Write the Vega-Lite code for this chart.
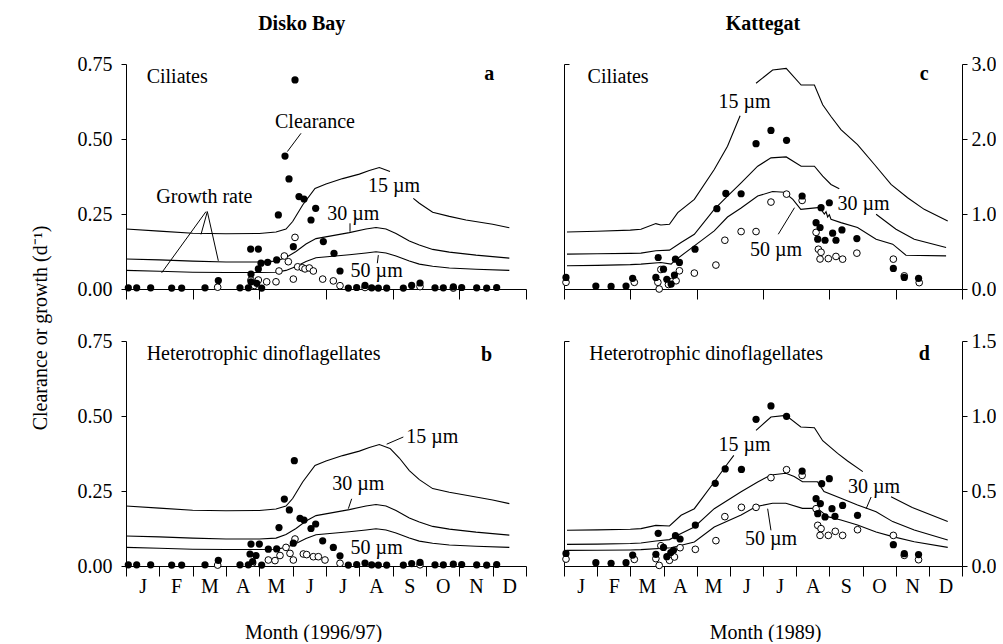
{
"$schema":"https://vega.github.io/schema/vega-lite/v6.json",
"padding":{"left":30,"top":14,"right":0,"bottom":0},
"config":{"view":{"stroke":null},"font":"Liberation Serif",
"axis":{"labelFont":"Liberation Serif","labelFontSize":20,"labelColor":"black","domainColor":"black","tickColor":"black","grid":false,"titleFont":"Liberation Serif","titleFontSize":20,"titleFontWeight":"normal","titleColor":"black","domainWidth":1,"tickWidth":1,"labelOverlap":false},
"text":{"font":"Liberation Serif","fontSize":20,"color":"black"},
"title":{"font":"Liberation Serif","fontSize":20,"color":"black"}},
"title":{"text":"Clearance or growth (d⁻¹)","orient":"left","anchor":"middle","fontWeight":"normal","offset":26},
"datasets":{
"lines":[
{"panel":"ab","seg":"15-1","month":0,"value":0.2},{"panel":"ab","seg":"15-1","month":1,"value":0.193},{"panel":"ab","seg":"15-1","month":2,"value":0.186},{"panel":"ab","seg":"15-1","month":3,"value":0.184},{"panel":"ab","seg":"15-1","month":4,"value":0.185},{"panel":"ab","seg":"15-1","month":4.5,"value":0.19},{"panel":"ab","seg":"15-1","month":4.8,"value":0.2},{"panel":"ab","seg":"15-1","month":5.0,"value":0.225},{"panel":"ab","seg":"15-1","month":5.3,"value":0.28},{"panel":"ab","seg":"15-1","month":5.67,"value":0.335},{"panel":"ab","seg":"15-1","month":6.0,"value":0.35},{"panel":"ab","seg":"15-1","month":6.5,"value":0.368},{"panel":"ab","seg":"15-1","month":7.0,"value":0.383},{"panel":"ab","seg":"15-1","month":7.3,"value":0.395},{"panel":"ab","seg":"15-1","month":7.6,"value":0.405},{"panel":"ab","seg":"15-1","month":7.92,"value":0.392},
{"panel":"a","seg":"15-2","month":8.62,"value":0.302},{"panel":"a","seg":"15-2","month":8.8,"value":0.286},{"panel":"a","seg":"15-2","month":9.2,"value":0.256},{"panel":"a","seg":"15-2","month":9.7,"value":0.242},{"panel":"a","seg":"15-2","month":10.2,"value":0.23},{"panel":"a","seg":"15-2","month":11.0,"value":0.216},{"panel":"a","seg":"15-2","month":11.5,"value":0.204},
{"panel":"b","seg":"15-2","month":7.92,"value":0.392},{"panel":"b","seg":"15-2","month":8.2,"value":0.36},{"panel":"b","seg":"15-2","month":8.5,"value":0.318},{"panel":"b","seg":"15-2","month":8.8,"value":0.288},{"panel":"b","seg":"15-2","month":9.2,"value":0.258},{"panel":"b","seg":"15-2","month":9.7,"value":0.246},{"panel":"b","seg":"15-2","month":10.5,"value":0.23},{"panel":"b","seg":"15-2","month":11.0,"value":0.22},{"panel":"b","seg":"15-2","month":11.5,"value":0.208},
{"panel":"ab","seg":"30","month":0,"value":0.1},{"panel":"ab","seg":"30","month":1,"value":0.097},{"panel":"ab","seg":"30","month":2,"value":0.093},{"panel":"ab","seg":"30","month":3,"value":0.09},{"panel":"ab","seg":"30","month":4,"value":0.09},{"panel":"ab","seg":"30","month":4.5,"value":0.093},{"panel":"ab","seg":"30","month":4.8,"value":0.105},{"panel":"ab","seg":"30","month":5.1,"value":0.125},{"panel":"ab","seg":"30","month":5.4,"value":0.15},{"panel":"ab","seg":"30","month":5.7,"value":0.168},{"panel":"ab","seg":"30","month":6.2,"value":0.178},{"panel":"ab","seg":"30","month":6.7,"value":0.188},{"panel":"ab","seg":"30","month":7.2,"value":0.2},{"panel":"ab","seg":"30","month":7.5,"value":0.205},{"panel":"ab","seg":"30","month":7.8,"value":0.2},{"panel":"ab","seg":"30","month":8.1,"value":0.185},{"panel":"ab","seg":"30","month":8.5,"value":0.16},{"panel":"ab","seg":"30","month":8.8,"value":0.147},{"panel":"ab","seg":"30","month":9.2,"value":0.132},{"panel":"ab","seg":"30","month":9.7,"value":0.123},{"panel":"ab","seg":"30","month":10.5,"value":0.113},{"panel":"ab","seg":"30","month":11.5,"value":0.103},
{"panel":"ab","seg":"50","month":0,"value":0.062},{"panel":"ab","seg":"50","month":1,"value":0.059},{"panel":"ab","seg":"50","month":2,"value":0.056},{"panel":"ab","seg":"50","month":3,"value":0.055},{"panel":"ab","seg":"50","month":4,"value":0.055},{"panel":"ab","seg":"50","month":4.5,"value":0.056},{"panel":"ab","seg":"50","month":4.8,"value":0.062},{"panel":"ab","seg":"50","month":5.1,"value":0.075},{"panel":"ab","seg":"50","month":5.4,"value":0.092},{"panel":"ab","seg":"50","month":5.7,"value":0.104},{"panel":"ab","seg":"50","month":6.2,"value":0.109},{"panel":"ab","seg":"50","month":6.7,"value":0.114},{"panel":"ab","seg":"50","month":7.2,"value":0.12},{"panel":"ab","seg":"50","month":7.5,"value":0.124},{"panel":"ab","seg":"50","month":7.8,"value":0.12},{"panel":"ab","seg":"50","month":8.1,"value":0.11},{"panel":"ab","seg":"50","month":8.5,"value":0.093},{"panel":"ab","seg":"50","month":8.8,"value":0.083},{"panel":"ab","seg":"50","month":9.2,"value":0.076},{"panel":"ab","seg":"50","month":9.7,"value":0.07},{"panel":"ab","seg":"50","month":10.5,"value":0.066},{"panel":"ab","seg":"50","month":11.5,"value":0.062},
{"panel":"c","seg":"15-1","month":0.09,"value":0.761},{"panel":"c","seg":"15-1","month":1,"value":0.77},{"panel":"c","seg":"15-1","month":2,"value":0.785},{"panel":"c","seg":"15-1","month":2.32,"value":0.796},{"panel":"c","seg":"15-1","month":2.77,"value":0.872},{"panel":"c","seg":"15-1","month":2.92,"value":0.854},{"panel":"c","seg":"15-1","month":3.18,"value":0.863},{"panel":"c","seg":"15-1","month":3.43,"value":1.018},{"panel":"c","seg":"15-1","month":3.93,"value":1.195},{"panel":"c","seg":"15-1","month":4.53,"value":1.593},{"panel":"c","seg":"15-1","month":4.93,"value":1.903},{"panel":"c","seg":"15-1","month":5.31,"value":2.31},
{"panel":"c","seg":"15-2","month":5.79,"value":2.743},{"panel":"c","seg":"15-2","month":6.29,"value":2.92},{"panel":"c","seg":"15-2","month":6.7,"value":2.942},{"panel":"c","seg":"15-2","month":7.15,"value":2.72},{"panel":"c","seg":"15-2","month":7.55,"value":2.72},{"panel":"c","seg":"15-2","month":7.8,"value":2.456},{"panel":"c","seg":"15-2","month":8.05,"value":2.3},{"panel":"c","seg":"15-2","month":8.35,"value":2.124},{"panel":"c","seg":"15-2","month":8.85,"value":1.925},{"panel":"c","seg":"15-2","month":9.36,"value":1.66},{"panel":"c","seg":"15-2","month":9.86,"value":1.394},{"panel":"c","seg":"15-2","month":10.36,"value":1.217},{"panel":"c","seg":"15-2","month":10.86,"value":1.062},{"panel":"c","seg":"15-2","month":11.57,"value":0.907},
{"panel":"c","seg":"30-1","month":0.09,"value":0.465},{"panel":"c","seg":"30-1","month":1,"value":0.47},{"panel":"c","seg":"30-1","month":2,"value":0.475},{"panel":"c","seg":"30-1","month":2.32,"value":0.478},{"panel":"c","seg":"30-1","month":2.77,"value":0.509},{"panel":"c","seg":"30-1","month":3.18,"value":0.518},{"panel":"c","seg":"30-1","month":3.53,"value":0.619},{"panel":"c","seg":"30-1","month":3.93,"value":0.73},{"panel":"c","seg":"30-1","month":4.53,"value":1.062},{"panel":"c","seg":"30-1","month":4.93,"value":1.239},{"panel":"c","seg":"30-1","month":5.34,"value":1.416},{"panel":"c","seg":"30-1","month":5.84,"value":1.637},{"panel":"c","seg":"30-1","month":6.24,"value":1.748},{"panel":"c","seg":"30-1","month":6.7,"value":1.761},{"panel":"c","seg":"30-1","month":7.15,"value":1.637},{"panel":"c","seg":"30-1","month":7.55,"value":1.637},{"panel":"c","seg":"30-1","month":7.8,"value":1.504},{"panel":"c","seg":"30-1","month":8.05,"value":1.394},{"panel":"c","seg":"30-1","month":8.3,"value":1.336},
{"panel":"c","seg":"30-2","month":9.41,"value":0.996},{"panel":"c","seg":"30-2","month":10.01,"value":0.797},{"panel":"c","seg":"30-2","month":10.56,"value":0.664},{"panel":"c","seg":"30-2","month":11.52,"value":0.553},
{"panel":"c","seg":"50","month":0.09,"value":0.31},{"panel":"c","seg":"50","month":1,"value":0.315},{"panel":"c","seg":"50","month":2,"value":0.325},{"panel":"c","seg":"50","month":2.32,"value":0.332},{"panel":"c","seg":"50","month":2.92,"value":0.354},{"panel":"c","seg":"50","month":3.23,"value":0.332},{"panel":"c","seg":"50","month":3.33,"value":0.376},{"panel":"c","seg":"50","month":3.93,"value":0.575},{"panel":"c","seg":"50","month":4.53,"value":0.774},{"panel":"c","seg":"50","month":4.93,"value":0.96},{"panel":"c","seg":"50","month":5.34,"value":1.08},{"panel":"c","seg":"50","month":5.84,"value":1.24},{"panel":"c","seg":"50","month":6.29,"value":1.3},{"panel":"c","seg":"50","month":6.64,"value":1.29},{"panel":"c","seg":"50","month":6.9,"value":1.195},{"panel":"c","seg":"50","month":7.14,"value":1.062},{"panel":"c","seg":"50","month":7.65,"value":1.085},{"panel":"c","seg":"50","month":7.75,"value":1.06},{"panel":"c","seg":"50","month":7.85,"value":1.0},{"panel":"c","seg":"50","month":7.9,"value":1.03},{"panel":"c","seg":"50","month":7.95,"value":0.96},{"panel":"c","seg":"50","month":8.0,"value":0.99},{"panel":"c","seg":"50","month":8.05,"value":0.93},{"panel":"c","seg":"50","month":8.35,"value":0.885},{"panel":"c","seg":"50","month":8.85,"value":0.82},{"panel":"c","seg":"50","month":9.41,"value":0.664},{"panel":"c","seg":"50","month":9.91,"value":0.598},{"panel":"c","seg":"50","month":10.31,"value":0.451},{"panel":"c","seg":"50","month":11.52,"value":0.442},
{"panel":"d","seg":"15-1","month":0.09,"value":0.238},{"panel":"d","seg":"15-1","month":1,"value":0.241},{"panel":"d","seg":"15-1","month":2,"value":0.245},{"panel":"d","seg":"15-1","month":2.32,"value":0.249},{"panel":"d","seg":"15-1","month":2.77,"value":0.271},{"panel":"d","seg":"15-1","month":3.18,"value":0.267},{"panel":"d","seg":"15-1","month":3.53,"value":0.338},{"panel":"d","seg":"15-1","month":3.93,"value":0.382},{"panel":"d","seg":"15-1","month":4.53,"value":0.56},{"panel":"d","seg":"15-1","month":4.93,"value":0.682},{"panel":"d","seg":"15-1","month":5.12,"value":0.738},
{"panel":"d","seg":"15-2","month":5.79,"value":0.904},{"panel":"d","seg":"15-2","month":6.24,"value":0.993},{"panel":"d","seg":"15-2","month":6.69,"value":1.004},{"panel":"d","seg":"15-2","month":7.14,"value":0.927},{"panel":"d","seg":"15-2","month":7.55,"value":0.922},{"panel":"d","seg":"15-2","month":7.8,"value":0.835},{"panel":"d","seg":"15-2","month":8.25,"value":0.751},{"panel":"d","seg":"15-2","month":8.55,"value":0.7},{"panel":"d","seg":"15-2","month":9.01,"value":0.629},
{"panel":"d","seg":"15-3","month":9.86,"value":0.462},{"panel":"d","seg":"15-3","month":10.5,"value":0.39},{"panel":"d","seg":"15-3","month":11.57,"value":0.296},
{"panel":"d","seg":"30","month":0.09,"value":0.144},{"panel":"d","seg":"30","month":1,"value":0.146},{"panel":"d","seg":"30","month":2,"value":0.15},{"panel":"d","seg":"30","month":2.32,"value":0.153},{"panel":"d","seg":"30","month":2.77,"value":0.167},{"panel":"d","seg":"30","month":3.18,"value":0.176},{"panel":"d","seg":"30","month":3.53,"value":0.216},{"panel":"d","seg":"30","month":3.93,"value":0.26},{"panel":"d","seg":"30","month":4.53,"value":0.382},{"panel":"d","seg":"30","month":5.34,"value":0.495},{"panel":"d","seg":"30","month":5.84,"value":0.56},{"panel":"d","seg":"30","month":6.24,"value":0.607},{"panel":"d","seg":"30","month":6.69,"value":0.618},{"panel":"d","seg":"30","month":6.94,"value":0.596},{"panel":"d","seg":"30","month":7.19,"value":0.562},{"panel":"d","seg":"30","month":7.64,"value":0.562},{"panel":"d","seg":"30","month":7.84,"value":0.496},{"panel":"d","seg":"30","month":8.35,"value":0.451},{"panel":"d","seg":"30","month":8.85,"value":0.407},{"panel":"d","seg":"30","month":9.41,"value":0.362},{"panel":"d","seg":"30","month":9.91,"value":0.296},{"panel":"d","seg":"30","month":10.56,"value":0.24},{"panel":"d","seg":"30","month":11.57,"value":0.173},
{"panel":"d","seg":"50","month":0.09,"value":0.104},{"panel":"d","seg":"50","month":1,"value":0.105},{"panel":"d","seg":"50","month":2,"value":0.107},{"panel":"d","seg":"50","month":2.32,"value":0.109},{"panel":"d","seg":"50","month":3.23,"value":0.122},{"panel":"d","seg":"50","month":3.93,"value":0.16},{"panel":"d","seg":"50","month":4.53,"value":0.26},{"panel":"d","seg":"50","month":5.34,"value":0.34},{"panel":"d","seg":"50","month":5.79,"value":0.396},{"panel":"d","seg":"50","month":6.29,"value":0.418},{"panel":"d","seg":"50","month":6.69,"value":0.418},{"panel":"d","seg":"50","month":7.19,"value":0.384},{"panel":"d","seg":"50","month":7.64,"value":0.384},{"panel":"d","seg":"50","month":7.95,"value":0.329},{"panel":"d","seg":"50","month":8.35,"value":0.307},{"panel":"d","seg":"50","month":8.85,"value":0.273},{"panel":"d","seg":"50","month":9.41,"value":0.227},{"panel":"d","seg":"50","month":9.91,"value":0.196},{"panel":"d","seg":"50","month":10.56,"value":0.162},{"panel":"d","seg":"50","month":11.57,"value":0.124}
],
"months":[
{"month":0.5,"name":"J"},{"month":1.5,"name":"F"},{"month":2.5,"name":"M"},{"month":3.5,"name":"A"},{"month":4.5,"name":"M"},{"month":5.5,"name":"J"},{"month":6.5,"name":"J"},{"month":7.5,"name":"A"},{"month":8.5,"name":"S"},{"month":9.5,"name":"O"},{"month":10.5,"name":"N"},{"month":11.5,"name":"D"}
],
"pointers":[
{"panel":"a","month":5.25,"value":0.519,"month2":4.84,"value2":0.458},
{"panel":"a","month":2.44,"value":0.258,"month2":2.25,"value2":0.182},
{"panel":"a","month":2.44,"value":0.258,"month2":2.77,"value2":0.094},
{"panel":"a","month":2.4,"value":0.258,"month2":1.07,"value2":0.054},
{"panel":"a","month":6.72,"value":0.219,"month2":6.72,"value2":0.191},
{"panel":"a","month":7.57,"value":0.113,"month2":7.54,"value2":0.086},
{"panel":"b","month":7.82,"value":0.406,"month2":8.32,"value2":0.43},
{"panel":"b","month":6.67,"value":0.191,"month2":6.77,"value2":0.224},
{"panel":"c","month":6.46,"value":0.73,"month2":6.95,"value2":1.084},
{"panel":"d","month":9.11,"value":0.382,"month2":9.26,"value2":0.46},
{"panel":"d","month":6.14,"value":0.382,"month2":6.24,"value2":0.238}
],
"labels":[
{"panel":"a","kind":"left","text":"Ciliates","month":0.62,"value":0.708},
{"panel":"a","kind":"bold","text":"a","month":10.9,"value":0.717},
{"panel":"a","kind":"center","text":"Clearance","month":5.67,"value":0.556},
{"panel":"a","kind":"center","text":"Growth rate","month":2.35,"value":0.306},
{"panel":"a","kind":"center","text":"15 µm","month":8.04,"value":0.344},
{"panel":"a","kind":"center","text":"30 µm","month":6.82,"value":0.25},
{"panel":"a","kind":"center","text":"50 µm","month":7.52,"value":0.061},
{"panel":"b","kind":"left","text":"Heterotrophic dinoflagellates","month":0.62,"value":0.708},
{"panel":"b","kind":"bold","text":"b","month":10.82,"value":0.702},
{"panel":"b","kind":"center","text":"15 µm","month":9.19,"value":0.43},
{"panel":"b","kind":"center","text":"30 µm","month":6.97,"value":0.274},
{"panel":"b","kind":"center","text":"50 µm","month":7.52,"value":0.06},
{"panel":"c","kind":"left","text":"Ciliates","month":0.71,"value":2.83},
{"panel":"c","kind":"bold","text":"c","month":10.86,"value":2.87},
{"panel":"c","kind":"center","text":"15 µm","month":5.44,"value":2.49},
{"panel":"c","kind":"center","text":"30 µm","month":9.03,"value":1.128},
{"panel":"c","kind":"center","text":"50 µm","month":6.39,"value":0.52},
{"panel":"d","kind":"left","text":"Heterotrophic dinoflagellates","month":0.76,"value":1.416},
{"panel":"d","kind":"bold","text":"d","month":10.86,"value":1.416},
{"panel":"d","kind":"center","text":"15 µm","month":5.44,"value":0.81},
{"panel":"d","kind":"center","text":"30 µm","month":9.35,"value":0.527},
{"panel":"d","kind":"center","text":"50 µm","month":6.24,"value":0.182}
],
"points":[
{"panel":"a","type":"f","month":0.07,"value":0.004},{"panel":"a","type":"f","month":0.32,"value":0.004},{"panel":"a","type":"f","month":0.74,"value":0.004},{"panel":"a","type":"f","month":1.37,"value":0.003},{"panel":"a","type":"f","month":1.67,"value":0.003},{"panel":"a","type":"f","month":2.37,"value":0.004},{"panel":"a","type":"f","month":2.77,"value":0.028},{"panel":"a","type":"f","month":3.42,"value":0.004},{"panel":"a","type":"f","month":3.67,"value":0.004},{"panel":"a","type":"f","month":4.07,"value":0.003},{"panel":"a","type":"f","month":3.75,"value":0.024},{"panel":"a","type":"f","month":3.92,"value":0.019},{"panel":"a","type":"f","month":3.75,"value":0.05},{"panel":"a","type":"f","month":3.97,"value":0.067},{"panel":"a","type":"f","month":4.05,"value":0.086},{"panel":"a","type":"f","month":4.25,"value":0.089},{"panel":"a","type":"f","month":4.52,"value":0.097},{"panel":"a","type":"f","month":3.74,"value":0.133},{"panel":"a","type":"f","month":3.97,"value":0.133},{"panel":"a","type":"f","month":4.57,"value":0.247},{"panel":"a","type":"f","month":4.77,"value":0.443},{"panel":"a","type":"f","month":4.89,"value":0.367},{"panel":"a","type":"f","month":5.07,"value":0.697},{"panel":"a","type":"f","month":5.02,"value":0.141},{"panel":"a","type":"f","month":5.19,"value":0.308},{"panel":"a","type":"f","month":5.34,"value":0.3},{"panel":"a","type":"f","month":5.55,"value":0.23},{"panel":"a","type":"f","month":5.69,"value":0.269},{"panel":"a","type":"f","month":5.92,"value":0.158},{"panel":"a","type":"f","month":6.24,"value":0.119},{"panel":"a","type":"f","month":6.42,"value":0.06},{"panel":"a","type":"f","month":6.67,"value":0.003},{"panel":"a","type":"f","month":6.92,"value":0.005},{"panel":"a","type":"f","month":7.17,"value":0.012},{"panel":"a","type":"f","month":7.37,"value":0.004},{"panel":"a","type":"f","month":7.57,"value":0.003},{"panel":"a","type":"f","month":7.82,"value":0.003},{"panel":"a","type":"f","month":8.32,"value":0.003},{"panel":"a","type":"f","month":8.57,"value":0.012},{"panel":"a","type":"f","month":8.82,"value":0.02},{"panel":"a","type":"f","month":9.27,"value":0.004},{"panel":"a","type":"f","month":9.52,"value":0.004},{"panel":"a","type":"f","month":9.82,"value":0.007},{"panel":"a","type":"f","month":10.07,"value":0.005},{"panel":"a","type":"f","month":10.52,"value":0.004},{"panel":"a","type":"f","month":10.82,"value":0.003},{"panel":"a","type":"f","month":11.12,"value":0.005},
{"panel":"a","type":"o","month":2.75,"value":0.006},{"panel":"a","type":"o","month":3.75,"value":0.03},{"panel":"a","type":"o","month":3.85,"value":0.012},{"panel":"a","type":"o","month":3.97,"value":0.03},{"panel":"a","type":"o","month":4.22,"value":0.024},{"panel":"a","type":"o","month":4.5,"value":0.024},{"panel":"a","type":"o","month":4.59,"value":0.06},{"panel":"a","type":"o","month":4.75,"value":0.11},{"panel":"a","type":"o","month":4.87,"value":0.091},{"panel":"a","type":"o","month":5.02,"value":0.033},{"panel":"a","type":"o","month":5.07,"value":0.172},{"panel":"a","type":"o","month":5.15,"value":0.074},{"panel":"a","type":"o","month":5.29,"value":0.071},{"panel":"a","type":"o","month":5.37,"value":0.067},{"panel":"a","type":"o","month":5.5,"value":0.07},{"panel":"a","type":"o","month":5.62,"value":0.06},{"panel":"a","type":"o","month":5.9,"value":0.033},{"panel":"a","type":"o","month":6.22,"value":0.027},{"panel":"a","type":"o","month":6.42,"value":0.011},{"panel":"a","type":"o","month":7.17,"value":0.005},{"panel":"a","type":"o","month":8.82,"value":0.008},{"panel":"a","type":"o","month":9.82,"value":0.003},
{"panel":"b","type":"f","month":0.07,"value":0.004},{"panel":"b","type":"f","month":0.32,"value":0.004},{"panel":"b","type":"f","month":0.74,"value":0.004},{"panel":"b","type":"f","month":1.37,"value":0.003},{"panel":"b","type":"f","month":1.67,"value":0.003},{"panel":"b","type":"f","month":2.37,"value":0.004},{"panel":"b","type":"f","month":2.77,"value":0.019},{"panel":"b","type":"f","month":3.42,"value":0.004},{"panel":"b","type":"f","month":3.67,"value":0.004},{"panel":"b","type":"f","month":4.07,"value":0.003},{"panel":"b","type":"f","month":3.8,"value":0.015},{"panel":"b","type":"f","month":3.72,"value":0.04},{"panel":"b","type":"f","month":3.9,"value":0.035},{"panel":"b","type":"f","month":3.75,"value":0.073},{"panel":"b","type":"f","month":4.0,"value":0.073},{"panel":"b","type":"f","month":4.27,"value":0.056},{"panel":"b","type":"f","month":4.52,"value":0.057},{"panel":"b","type":"f","month":4.59,"value":0.128},{"panel":"b","type":"f","month":4.75,"value":0.223},{"panel":"b","type":"f","month":4.9,"value":0.187},{"panel":"b","type":"f","month":5.05,"value":0.351},{"panel":"b","type":"f","month":5.02,"value":0.076},{"panel":"b","type":"f","month":5.22,"value":0.159},{"panel":"b","type":"f","month":5.34,"value":0.153},{"panel":"b","type":"f","month":5.55,"value":0.125},{"panel":"b","type":"f","month":5.69,"value":0.14},{"panel":"b","type":"f","month":5.9,"value":0.084},{"panel":"b","type":"f","month":6.22,"value":0.062},{"panel":"b","type":"f","month":6.42,"value":0.034},{"panel":"b","type":"f","month":6.67,"value":0.003},{"panel":"b","type":"f","month":6.92,"value":0.005},{"panel":"b","type":"f","month":7.17,"value":0.01},{"panel":"b","type":"f","month":7.37,"value":0.004},{"panel":"b","type":"f","month":7.57,"value":0.003},{"panel":"b","type":"f","month":7.82,"value":0.003},{"panel":"b","type":"f","month":8.32,"value":0.003},{"panel":"b","type":"f","month":8.57,"value":0.008},{"panel":"b","type":"f","month":8.82,"value":0.012},{"panel":"b","type":"f","month":9.27,"value":0.004},{"panel":"b","type":"f","month":9.52,"value":0.004},{"panel":"b","type":"f","month":9.82,"value":0.006},{"panel":"b","type":"f","month":10.07,"value":0.005},{"panel":"b","type":"f","month":10.52,"value":0.004},{"panel":"b","type":"f","month":10.82,"value":0.003},{"panel":"b","type":"f","month":11.12,"value":0.005},
{"panel":"b","type":"o","month":2.75,"value":0.003},{"panel":"b","type":"o","month":3.8,"value":0.01},{"panel":"b","type":"o","month":4.27,"value":0.02},{"panel":"b","type":"o","month":4.47,"value":0.018},{"panel":"b","type":"o","month":4.62,"value":0.035},{"panel":"b","type":"o","month":4.8,"value":0.062},{"panel":"b","type":"o","month":4.92,"value":0.042},{"panel":"b","type":"o","month":5.02,"value":0.02},{"panel":"b","type":"o","month":5.07,"value":0.09},{"panel":"b","type":"o","month":5.32,"value":0.04},{"panel":"b","type":"o","month":5.42,"value":0.038},{"panel":"b","type":"o","month":5.62,"value":0.031},{"panel":"b","type":"o","month":5.77,"value":0.031},{"panel":"b","type":"o","month":5.97,"value":0.02},{"panel":"b","type":"o","month":6.42,"value":0.009},{"panel":"b","type":"o","month":8.82,"value":0.004},
{"panel":"c","type":"f","month":0.06,"value":0.155},{"panel":"c","type":"f","month":0.96,"value":0.04},{"panel":"c","type":"f","month":1.42,"value":0.035},{"panel":"c","type":"f","month":1.87,"value":0.04},{"panel":"c","type":"f","month":2.07,"value":0.142},{"panel":"c","type":"f","month":2.77,"value":0.155},{"panel":"c","type":"f","month":2.84,"value":0.42},{"panel":"c","type":"f","month":3.0,"value":0.265},{"panel":"c","type":"f","month":3.1,"value":0.13},{"panel":"c","type":"f","month":3.23,"value":0.066},{"panel":"c","type":"f","month":3.33,"value":0.186},{"panel":"c","type":"f","month":3.36,"value":0.398},{"panel":"c","type":"f","month":3.48,"value":0.354},{"panel":"c","type":"f","month":3.95,"value":0.531},{"panel":"c","type":"f","month":4.61,"value":1.071},{"panel":"c","type":"f","month":4.88,"value":1.274},{"panel":"c","type":"f","month":5.34,"value":1.27},{"panel":"c","type":"f","month":5.79,"value":1.938},{"panel":"c","type":"f","month":6.24,"value":2.115},{"panel":"c","type":"f","month":6.71,"value":1.982},{"panel":"c","type":"f","month":7.18,"value":1.24},{"panel":"c","type":"f","month":7.6,"value":0.885},{"panel":"c","type":"f","month":7.72,"value":0.82},{"panel":"c","type":"f","month":7.75,"value":1.085},{"panel":"c","type":"f","month":8.0,"value":1.15},{"panel":"c","type":"f","month":7.65,"value":0.664},{"panel":"c","type":"f","month":7.87,"value":0.65},{"panel":"c","type":"f","month":8.1,"value":0.744},{"panel":"c","type":"f","month":8.2,"value":0.65},{"panel":"c","type":"f","month":8.38,"value":0.788},{"panel":"c","type":"f","month":8.83,"value":0.673},{"panel":"c","type":"f","month":9.93,"value":0.274},{"panel":"c","type":"f","month":10.26,"value":0.155},{"panel":"c","type":"f","month":10.69,"value":0.142},
{"panel":"c","type":"o","month":0.06,"value":0.089},{"panel":"c","type":"o","month":2.12,"value":0.089},{"panel":"c","type":"o","month":2.83,"value":0.089},{"panel":"c","type":"o","month":2.87,"value":0.0},{"panel":"c","type":"o","month":2.92,"value":0.26},{"panel":"c","type":"o","month":3.15,"value":0.06},{"panel":"c","type":"o","month":3.25,"value":0.1},{"panel":"c","type":"o","month":3.38,"value":0.11},{"panel":"c","type":"o","month":3.48,"value":0.243},{"panel":"c","type":"o","month":3.93,"value":0.212},{"panel":"c","type":"o","month":4.58,"value":0.319},{"panel":"c","type":"o","month":4.85,"value":0.65},{"panel":"c","type":"o","month":5.34,"value":0.766},{"panel":"c","type":"o","month":5.79,"value":0.766},{"panel":"c","type":"o","month":6.24,"value":1.159},{"panel":"c","type":"o","month":6.71,"value":1.265},{"panel":"c","type":"o","month":7.18,"value":1.181},{"panel":"c","type":"o","month":7.6,"value":0.755},{"panel":"c","type":"o","month":7.67,"value":0.53},{"panel":"c","type":"o","month":7.75,"value":0.49},{"panel":"c","type":"o","month":7.72,"value":0.4},{"panel":"c","type":"o","month":7.97,"value":0.405},{"panel":"c","type":"o","month":8.2,"value":0.434},{"panel":"c","type":"o","month":8.4,"value":0.398},{"panel":"c","type":"o","month":8.83,"value":0.478},{"panel":"c","type":"o","month":9.93,"value":0.398},{"panel":"c","type":"o","month":10.26,"value":0.175},{"panel":"c","type":"o","month":10.71,"value":0.085},
{"panel":"d","type":"f","month":0.06,"value":0.084},{"panel":"d","type":"f","month":0.96,"value":0.022},{"panel":"d","type":"f","month":1.42,"value":0.018},{"panel":"d","type":"f","month":1.87,"value":0.022},{"panel":"d","type":"f","month":2.07,"value":0.073},{"panel":"d","type":"f","month":2.77,"value":0.078},{"panel":"d","type":"f","month":2.84,"value":0.218},{"panel":"d","type":"f","month":3.0,"value":0.124},{"panel":"d","type":"f","month":3.1,"value":0.062},{"panel":"d","type":"f","month":3.22,"value":0.09},{"panel":"d","type":"f","month":3.3,"value":0.105},{"panel":"d","type":"f","month":3.36,"value":0.202},{"panel":"d","type":"f","month":3.5,"value":0.18},{"panel":"d","type":"f","month":3.96,"value":0.273},{"panel":"d","type":"f","month":4.56,"value":0.551},{"panel":"d","type":"f","month":4.86,"value":0.647},{"panel":"d","type":"f","month":5.35,"value":0.644},{"panel":"d","type":"f","month":5.79,"value":0.978},{"panel":"d","type":"f","month":6.24,"value":1.067},{"panel":"d","type":"f","month":6.71,"value":0.998},{"panel":"d","type":"f","month":7.18,"value":0.633},{"panel":"d","type":"f","month":7.6,"value":0.449},{"panel":"d","type":"f","month":7.73,"value":0.416},{"panel":"d","type":"f","month":7.77,"value":0.549},{"panel":"d","type":"f","month":8.0,"value":0.582},{"panel":"d","type":"f","month":7.65,"value":0.349},{"panel":"d","type":"f","month":7.87,"value":0.327},{"panel":"d","type":"f","month":8.08,"value":0.382},{"panel":"d","type":"f","month":8.17,"value":0.331},{"panel":"d","type":"f","month":8.4,"value":0.404},{"panel":"d","type":"f","month":8.85,"value":0.338},{"panel":"d","type":"f","month":9.93,"value":0.142},{"panel":"d","type":"f","month":10.26,"value":0.082},{"panel":"d","type":"f","month":10.69,"value":0.076},
{"panel":"d","type":"o","month":0.06,"value":0.046},{"panel":"d","type":"o","month":2.12,"value":0.044},{"panel":"d","type":"o","month":2.77,"value":0.049},{"panel":"d","type":"o","month":2.87,"value":0.004},{"panel":"d","type":"o","month":2.92,"value":0.135},{"panel":"d","type":"o","month":3.18,"value":0.038},{"panel":"d","type":"o","month":3.33,"value":0.06},{"panel":"d","type":"o","month":3.5,"value":0.122},{"panel":"d","type":"o","month":3.96,"value":0.111},{"panel":"d","type":"o","month":4.58,"value":0.169},{"panel":"d","type":"o","month":4.85,"value":0.329},{"panel":"d","type":"o","month":5.35,"value":0.391},{"panel":"d","type":"o","month":5.79,"value":0.391},{"panel":"d","type":"o","month":6.24,"value":0.589},{"panel":"d","type":"o","month":6.71,"value":0.642},{"panel":"d","type":"o","month":7.18,"value":0.604},{"panel":"d","type":"o","month":7.6,"value":0.382},{"panel":"d","type":"o","month":7.65,"value":0.271},{"panel":"d","type":"o","month":7.75,"value":0.249},{"panel":"d","type":"o","month":7.72,"value":0.204},{"panel":"d","type":"o","month":7.97,"value":0.204},{"panel":"d","type":"o","month":8.18,"value":0.231},{"panel":"d","type":"o","month":8.4,"value":0.204},{"panel":"d","type":"o","month":8.85,"value":0.242},{"panel":"d","type":"o","month":9.93,"value":0.204},{"panel":"d","type":"o","month":10.26,"value":0.071},{"panel":"d","type":"o","month":10.69,"value":0.042}
]},
"vconcat":[
{"hconcat":[
{"width":400,"height":225,
"title":{"text":"Disko Bay","fontWeight":"bold","frame":"bounds","anchor":"middle","offset":20},
"layer":[
{"data":{"name":"lines"},"transform":[{"filter":"datum.panel==='a'||datum.panel==='ab'"}],"mark":{"type":"line","color":"black","strokeWidth":1.1},
"encoding":{"x":{"field":"month","type":"quantitative","scale":{"domain":[0,12],"nice":false},"axis":{"values":[0,1,2,3,4,5,6,7,8,9,10,11,12],"labels":false,"tickSize":10,"title":null}},
"y":{"field":"value","type":"quantitative","scale":{"domain":[0,0.75],"nice":false},"axis":{"values":[0,0.25,0.5,0.75],"format":".2f","tickSize":5,"labelPadding":9,"title":null}},"detail":{"field":"seg"}}},
{"data":{"name":"pointers"},"transform":[{"filter":"datum.panel==='a'"}],"mark":{"type":"rule","color":"black","strokeWidth":1},
"encoding":{"x":{"field":"month","type":"quantitative"},"y":{"field":"value","type":"quantitative"},"x2":{"field":"month2"},"y2":{"field":"value2"}}},
{"data":{"name":"points"},"transform":[{"filter":"datum.panel==='a'&&datum.type==='o'"}],"mark":{"type":"point","shape":"circle","filled":true,"fill":"white","stroke":"black","strokeWidth":1,"size":45,"opacity":1},
"encoding":{"x":{"field":"month","type":"quantitative"},"y":{"field":"value","type":"quantitative"}}},
{"data":{"name":"points"},"transform":[{"filter":"datum.panel==='a'&&datum.type==='f'"}],"mark":{"type":"circle","color":"black","size":52,"opacity":1},
"encoding":{"x":{"field":"month","type":"quantitative"},"y":{"field":"value","type":"quantitative"}}},
{"data":{"name":"labels"},"transform":[{"filter":"datum.panel==='a'&&datum.kind==='left'"}],"mark":{"type":"text","align":"left","baseline":"middle"},
"encoding":{"x":{"field":"month","type":"quantitative"},"y":{"field":"value","type":"quantitative"},"text":{"field":"text"}}},
{"data":{"name":"labels"},"transform":[{"filter":"datum.panel==='a'&&datum.kind==='center'"}],"mark":{"type":"text","align":"center","baseline":"middle"},
"encoding":{"x":{"field":"month","type":"quantitative"},"y":{"field":"value","type":"quantitative"},"text":{"field":"text"}}},
{"data":{"name":"labels"},"transform":[{"filter":"datum.panel==='a'&&datum.kind==='bold'"}],"mark":{"type":"text","align":"center","baseline":"middle","fontWeight":"bold"},
"encoding":{"x":{"field":"month","type":"quantitative"},"y":{"field":"value","type":"quantitative"},"text":{"field":"text"}}}
]},
{"width":398,"height":225,
"title":{"text":"Kattegat","fontWeight":"bold","frame":"group","anchor":"middle","offset":20},
"resolve":{"axis":{"y":"independent"}},
"layer":[
{"data":{"name":"lines"},"transform":[{"filter":"datum.panel==='c'"}],"mark":{"type":"line","color":"black","strokeWidth":1.1},
"encoding":{"x":{"field":"month","type":"quantitative","scale":{"domain":[0,12],"nice":false},"axis":{"values":[0,1,2,3,4,5,6,7,8,9,10,11,12],"labels":false,"tickSize":10,"title":null}},
"y":{"field":"value","type":"quantitative","scale":{"domain":[0,3],"nice":false},"axis":{"orient":"right","values":[0,1,2,3],"format":".1f","tickSize":5,"labelPadding":4,"title":null}},"detail":{"field":"seg"}}},
{"data":{"name":"pointers"},"transform":[{"filter":"datum.panel==='c'"}],"mark":{"type":"rule","color":"black","strokeWidth":1},
"encoding":{"x":{"field":"month","type":"quantitative"},"y":{"field":"value","type":"quantitative","axis":null},"x2":{"field":"month2"},"y2":{"field":"value2"}}},
{"data":{"name":"points"},"transform":[{"filter":"datum.panel==='c'&&datum.type==='o'"}],"mark":{"type":"point","shape":"circle","filled":true,"fill":"white","stroke":"black","strokeWidth":1,"size":45,"opacity":1},
"encoding":{"x":{"field":"month","type":"quantitative"},"y":{"field":"value","type":"quantitative","axis":{"orient":"left","labels":false,"values":[3],"tickSize":-5,"title":null}}}},
{"data":{"name":"points"},"transform":[{"filter":"datum.panel==='c'&&datum.type==='f'"}],"mark":{"type":"circle","color":"black","size":52,"opacity":1},
"encoding":{"x":{"field":"month","type":"quantitative"},"y":{"field":"value","type":"quantitative","axis":null}}},
{"data":{"name":"labels"},"transform":[{"filter":"datum.panel==='c'&&datum.kind==='left'"}],"mark":{"type":"text","align":"left","baseline":"middle"},
"encoding":{"x":{"field":"month","type":"quantitative"},"y":{"field":"value","type":"quantitative","axis":null},"text":{"field":"text"}}},
{"data":{"name":"labels"},"transform":[{"filter":"datum.panel==='c'&&datum.kind==='center'"}],"mark":{"type":"text","align":"center","baseline":"middle"},
"encoding":{"x":{"field":"month","type":"quantitative"},"y":{"field":"value","type":"quantitative","axis":null},"text":{"field":"text"}}},
{"data":{"name":"labels"},"transform":[{"filter":"datum.panel==='c'&&datum.kind==='bold'"}],"mark":{"type":"text","align":"center","baseline":"middle","fontWeight":"bold"},
"encoding":{"x":{"field":"month","type":"quantitative"},"y":{"field":"value","type":"quantitative","axis":null},"text":{"field":"text"}}}
]}
],"spacing":33},
{"hconcat":[
{"width":400,"height":225,
"resolve":{"axis":{"x":"independent"}},
"layer":[
{"data":{"name":"lines"},"transform":[{"filter":"datum.panel==='b'||datum.panel==='ab'"}],"mark":{"type":"line","color":"black","strokeWidth":1.1},
"encoding":{"x":{"field":"month","type":"quantitative","scale":{"domain":[0,12],"nice":false},"axis":{"orient":"bottom","values":[0,1,2,3,4,5,6,7,8,9,10,11,12],"labels":false,"tickSize":10,"title":null}},
"y":{"field":"value","type":"quantitative","scale":{"domain":[0,0.75],"nice":false},"axis":{"values":[0,0.25,0.5,0.75],"format":".2f","tickSize":5,"labelPadding":9,"title":null}},"detail":{"field":"seg"}}},
{"data":{"name":"months"},"mark":{"type":"point","opacity":0,"size":1},
"encoding":{"x":{"field":"month","type":"quantitative","axis":{"orient":"bottom","values":[0.5,1.5,2.5,3.5,4.5,5.5,6.5,7.5,8.5,9.5,10.5,11.5],"labelExpr":"['J','F','M','A','M','J','J','A','S','O','N','D'][floor(datum.value)]","ticks":false,"domain":false,"labelPadding":10,"labelOverlap":false,"labelFlush":false,"title":"Month (1996/97)","titlePadding":26,"titleX":187}},"y":{"datum":0,"type":"quantitative"}}},
{"data":{"name":"pointers"},"transform":[{"filter":"datum.panel==='b'"}],"mark":{"type":"rule","color":"black","strokeWidth":1},
"encoding":{"x":{"field":"month","type":"quantitative","axis":null},"y":{"field":"value","type":"quantitative"},"x2":{"field":"month2"},"y2":{"field":"value2"}}},
{"data":{"name":"points"},"transform":[{"filter":"datum.panel==='b'&&datum.type==='o'"}],"mark":{"type":"point","shape":"circle","filled":true,"fill":"white","stroke":"black","strokeWidth":1,"size":45,"opacity":1},
"encoding":{"x":{"field":"month","type":"quantitative","axis":null},"y":{"field":"value","type":"quantitative"}}},
{"data":{"name":"points"},"transform":[{"filter":"datum.panel==='b'&&datum.type==='f'"}],"mark":{"type":"circle","color":"black","size":52,"opacity":1},
"encoding":{"x":{"field":"month","type":"quantitative","axis":null},"y":{"field":"value","type":"quantitative"}}},
{"data":{"name":"labels"},"transform":[{"filter":"datum.panel==='b'&&datum.kind==='left'"}],"mark":{"type":"text","align":"left","baseline":"middle"},
"encoding":{"x":{"field":"month","type":"quantitative","axis":null},"y":{"field":"value","type":"quantitative"},"text":{"field":"text"}}},
{"data":{"name":"labels"},"transform":[{"filter":"datum.panel==='b'&&datum.kind==='center'"}],"mark":{"type":"text","align":"center","baseline":"middle"},
"encoding":{"x":{"field":"month","type":"quantitative","axis":null},"y":{"field":"value","type":"quantitative"},"text":{"field":"text"}}},
{"data":{"name":"labels"},"transform":[{"filter":"datum.panel==='b'&&datum.kind==='bold'"}],"mark":{"type":"text","align":"center","baseline":"middle","fontWeight":"bold"},
"encoding":{"x":{"field":"month","type":"quantitative","axis":null},"y":{"field":"value","type":"quantitative"},"text":{"field":"text"}}}
]},
{"width":398,"height":225,
"resolve":{"axis":{"x":"independent","y":"independent"}},
"layer":[
{"data":{"name":"lines"},"transform":[{"filter":"datum.panel==='d'"}],"mark":{"type":"line","color":"black","strokeWidth":1.1},
"encoding":{"x":{"field":"month","type":"quantitative","scale":{"domain":[0,12],"nice":false},"axis":{"orient":"bottom","values":[0,1,2,3,4,5,6,7,8,9,10,11,12],"labels":false,"tickSize":10,"title":null}},
"y":{"field":"value","type":"quantitative","scale":{"domain":[0,1.5],"nice":false},"axis":{"orient":"right","values":[0,0.5,1,1.5],"format":".1f","tickSize":5,"labelPadding":4,"title":null}},"detail":{"field":"seg"}}},
{"data":{"name":"months"},"mark":{"type":"point","opacity":0,"size":1},
"encoding":{"x":{"field":"month","type":"quantitative","axis":{"orient":"bottom","values":[0.5,1.5,2.5,3.5,4.5,5.5,6.5,7.5,8.5,9.5,10.5,11.5],"labelExpr":"['J','F','M','A','M','J','J','A','S','O','N','D'][floor(datum.value)]","ticks":false,"domain":false,"labelPadding":10,"labelOverlap":false,"labelFlush":false,"title":"Month (1989)","titlePadding":26,"titleX":201}},"y":{"datum":0,"type":"quantitative","axis":null}}},
{"data":{"name":"pointers"},"transform":[{"filter":"datum.panel==='d'"}],"mark":{"type":"rule","color":"black","strokeWidth":1},
"encoding":{"x":{"field":"month","type":"quantitative","axis":null},"y":{"field":"value","type":"quantitative","axis":null},"x2":{"field":"month2"},"y2":{"field":"value2"}}},
{"data":{"name":"points"},"transform":[{"filter":"datum.panel==='d'&&datum.type==='o'"}],"mark":{"type":"point","shape":"circle","filled":true,"fill":"white","stroke":"black","strokeWidth":1,"size":45,"opacity":1},
"encoding":{"x":{"field":"month","type":"quantitative","axis":null},"y":{"field":"value","type":"quantitative","axis":{"orient":"left","labels":false,"values":[1.5],"tickSize":-5,"title":null}}}},
{"data":{"name":"points"},"transform":[{"filter":"datum.panel==='d'&&datum.type==='f'"}],"mark":{"type":"circle","color":"black","size":52,"opacity":1},
"encoding":{"x":{"field":"month","type":"quantitative","axis":null},"y":{"field":"value","type":"quantitative","axis":null}}},
{"data":{"name":"labels"},"transform":[{"filter":"datum.panel==='d'&&datum.kind==='left'"}],"mark":{"type":"text","align":"left","baseline":"middle"},
"encoding":{"x":{"field":"month","type":"quantitative","axis":null},"y":{"field":"value","type":"quantitative","axis":null},"text":{"field":"text"}}},
{"data":{"name":"labels"},"transform":[{"filter":"datum.panel==='d'&&datum.kind==='center'"}],"mark":{"type":"text","align":"center","baseline":"middle"},
"encoding":{"x":{"field":"month","type":"quantitative","axis":null},"y":{"field":"value","type":"quantitative","axis":null},"text":{"field":"text"}}},
{"data":{"name":"labels"},"transform":[{"filter":"datum.panel==='d'&&datum.kind==='bold'"}],"mark":{"type":"text","align":"center","baseline":"middle","fontWeight":"bold"},
"encoding":{"x":{"field":"month","type":"quantitative","axis":null},"y":{"field":"value","type":"quantitative","axis":null},"text":{"field":"text"}}}
]}
],"spacing":33}
],"spacing":31}
